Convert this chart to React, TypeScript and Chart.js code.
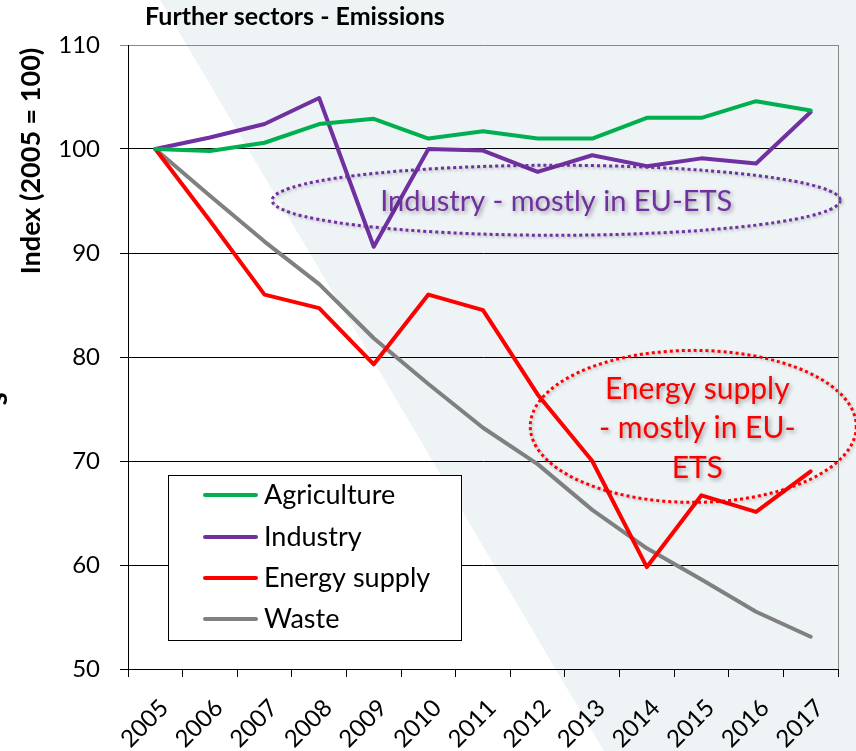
import React, { useEffect, useRef } from "react";
import { Chart, registerables } from "chart.js";

Chart.register(...registerables);

const years = ["2005", "2006", "2007", "2008", "2009", "2010", "2011", "2012", "2013", "2014", "2015", "2016", "2017"];
const agriculture = [100, 99.8, 100.6, 102.4, 102.9, 101.0, 101.7, 101.0, 101.0, 103.0, 103.0, 104.6, 103.7];
const industry = [100, 101.1, 102.4, 104.9, 90.6, 100.0, 99.85, 97.8, 99.4, 98.35, 99.1, 98.6, 103.55];
const energySupply = [100, 93.1, 86.0, 84.7, 79.3, 86.0, 84.5, 76.4, 70.0, 59.8, 66.7, 65.1, 69.0];
const waste = [100, 95.5, 91.1, 87.0, 81.8, 77.4, 73.2, 69.7, 65.3, 61.6, 58.6, 55.5, 53.1];

const seriesNames = ["Agriculture", "Industry", "Energy supply", "Waste"];
const seriesColors = ["#00B050", "#7030A0", "#FF0000", "#808080"];

const yMin = 50;
const yMax = 110;
const yStep = 10;

const chartTitle = "Further sectors - Emissions";
const yAxisTitle = "Index (2005 = 100)";
const industryNote = ["Industry - mostly in EU-ETS"];
const energyNote = ["Energy supply", "- mostly in EU-", "ETS"];

const FONT = "Lato, 'Open Sans', sans-serif";

export default function App() {
  const ref = useRef<HTMLCanvasElement>(null);

  useEffect(() => {
    const canvas = ref.current;
    if (!canvas) return;

    const drawEllipseNote = (
      ctx: CanvasRenderingContext2D,
      cx: number,
      cy: number,
      rx: number,
      ry: number,
      color: string,
      lines: string[],
      lineH: number,
      textCx: number,
      textCy: number,
      fontSize: number
    ) => {
      ctx.save();
      ctx.shadowColor = "rgba(0,0,0,0.25)";
      ctx.shadowBlur = 3;
      ctx.shadowOffsetX = 1.5;
      ctx.shadowOffsetY = 1.5;
      ctx.strokeStyle = color;
      ctx.lineWidth = 3;
      ctx.setLineDash([3, 3]);
      ctx.beginPath();
      ctx.ellipse(cx, cy, rx, ry, 0, 0, Math.PI * 2);
      ctx.stroke();
      ctx.setLineDash([]);
      ctx.shadowColor = "rgba(0,0,0,0.35)";
      ctx.shadowBlur = 4;
      ctx.shadowOffsetX = 2;
      ctx.shadowOffsetY = 2;
      ctx.fillStyle = color;
      ctx.font = `${fontSize}px ${FONT}`;
      ctx.textAlign = "center";
      ctx.textBaseline = "middle";
      const start = textCy - ((lines.length - 1) * lineH) / 2;
      lines.forEach((l, i) => ctx.fillText(l, textCx, start + i * lineH));
      ctx.restore();
    };

    const decor = {
      id: "decor",
      beforeDraw(chart: any) {
        const { ctx, width, height } = chart;
        ctx.save();
        ctx.fillStyle = "#EEF3F6";
        ctx.beginPath();
        ctx.moveTo(160, 0);
        ctx.lineTo(604, height);
        ctx.lineTo(width, height);
        ctx.lineTo(width, 0);
        ctx.closePath();
        ctx.fill();
        ctx.restore();
      },
      afterDatasetsDraw(chart: any) {
        const { ctx } = chart;
        const xs = chart.scales.x;
        const ys = chart.scales.y;
        const c1x = xs.getPixelForValue(7.34);
        const c1y = ys.getPixelForValue(95.07);
        drawEllipseNote(ctx, c1x, c1y, 284, 35, "#7030A0", industryNote, 40, c1x, c1y + 1, 29);
        const c2x = xs.getPixelForValue(9.85);
        const c2y = ys.getPixelForValue(73.33);
        drawEllipseNote(ctx, c2x, c2y, 163, 76, "#FF0000", energyNote, 39.5, c2x + 4, c2y + 2, 30);
      },
      afterDraw(chart: any) {
        const { ctx, chartArea } = chart;
        const xs = chart.scales.x;
        ctx.save();
        // right border of plot area
        ctx.strokeStyle = "#888888";
        ctx.lineWidth = 1;
        ctx.beginPath();
        ctx.moveTo(Math.round(chartArea.right) + 0.5, chartArea.top);
        ctx.lineTo(Math.round(chartArea.right) + 0.5, chartArea.bottom);
        ctx.stroke();

        // title
        ctx.fillStyle = "#000";
        ctx.font = `bold 25px ${FONT}`;
        ctx.textAlign = "left";
        ctx.textBaseline = "middle";
        ctx.fillText(chartTitle, 145, 17);

        // y-axis title
        ctx.save();
        ctx.translate(31, 161);
        ctx.rotate(-Math.PI / 2);
        ctx.font = `bold 27px ${FONT}`;
        ctx.textAlign = "center";
        ctx.textBaseline = "middle";
        ctx.fillText(yAxisTitle, 0, 0);
        ctx.restore();

        // cut-off glyph at left edge
        ctx.save();
        ctx.translate(7, 399);
        ctx.rotate(-Math.PI / 2);
        ctx.font = `bold 30px ${FONT}`;
        ctx.textAlign = "center";
        ctx.textBaseline = "alphabetic";
        ctx.fillText("s", 0, 0);
        ctx.restore();

        // x tick labels, rotated
        ctx.font = `24px ${FONT}`;
        ctx.textAlign = "right";
        ctx.textBaseline = "middle";
        years.forEach((lab, i) => {
          const x = xs.getPixelForValue(i);
          ctx.save();
          ctx.translate(x + 9, chartArea.bottom + 35);
          ctx.rotate(-Math.PI / 4);
          ctx.fillText(lab, 0, 0);
          ctx.restore();
        });

        // legend box
        const lx = 168, ly = 475, lw = 293, lh = 165;
        ctx.fillStyle = "#FFFFFF";
        ctx.fillRect(lx, ly, lw, lh);
        ctx.strokeStyle = "#000";
        ctx.lineWidth = 1;
        ctx.strokeRect(lx + 0.5, ly + 0.5, lw, lh);
        const rows = [495, 537, 578, 619];
        chart.data.datasets.forEach((ds: any, i: number) => {
          const y = rows[i];
          ctx.strokeStyle = ds.borderColor;
          ctx.lineWidth = 4;
          ctx.lineCap = "round";
          ctx.beginPath();
          ctx.moveTo(205, y);
          ctx.lineTo(256, y);
          ctx.stroke();
          ctx.fillStyle = "#000";
          ctx.font = `27px ${FONT}`;
          ctx.textAlign = "left";
          ctx.textBaseline = "middle";
          ctx.fillText(ds.label, 264, y);
        });
        ctx.restore();
      },
    };

    const seriesData = [agriculture, industry, energySupply, waste];

    const chart = new Chart(canvas, {
      type: "line",
      data: {
        labels: years,
        datasets: seriesData.map((d, i) => ({
          label: seriesNames[i],
          data: d,
          borderColor: seriesColors[i],
          backgroundColor: seriesColors[i],
          borderWidth: 4,
          pointRadius: 0,
          tension: 0,
          fill: false,
          borderJoinStyle: "round" as const,
          borderCapStyle: "round" as const,
        })),
      },
      options: {
        responsive: false,
        animation: false,
        devicePixelRatio: 1,
        layout: { padding: { top: 45, right: 18, left: 0, bottom: 0 } },
        plugins: {
          legend: { display: false },
          title: { display: false },
          tooltip: { enabled: false },
        },
        scales: {
          x: {
            type: "category",
            offset: true,
            grid: {
              display: true,
              drawOnChartArea: false,
              drawTicks: true,
              tickLength: 8,
              color: "#000",
              offset: true,
            },
            border: { display: true, color: "#000", width: 1 },
            ticks: { display: false },
            afterFit: (s: any) => {
              s.height = 82;
            },
          },
          y: {
            min: yMin,
            max: yMax,
            ticks: {
              stepSize: yStep,
              color: "#000",
              font: { family: FONT, size: 24 },
              padding: 20,
            },
            grid: {
              color: (c: any) => (c.tick && c.tick.value === yMax ? "#888888" : "#000000"),
              tickLength: 8,
              lineWidth: 1,
            },
            border: { display: true, color: "#000", width: 1 },
            afterFit: (s: any) => {
              s.width = 128;
            },
          },
        },
      },
      plugins: [decor],
    });

    return () => chart.destroy();
  }, []);

  return (
    <div style={{ position: "absolute", left: 0, top: 0, width: 856, height: 751 }}>
      <canvas ref={ref} width={856} height={751} style={{ width: 856, height: 751, display: "block" }} />
    </div>
  );
}
